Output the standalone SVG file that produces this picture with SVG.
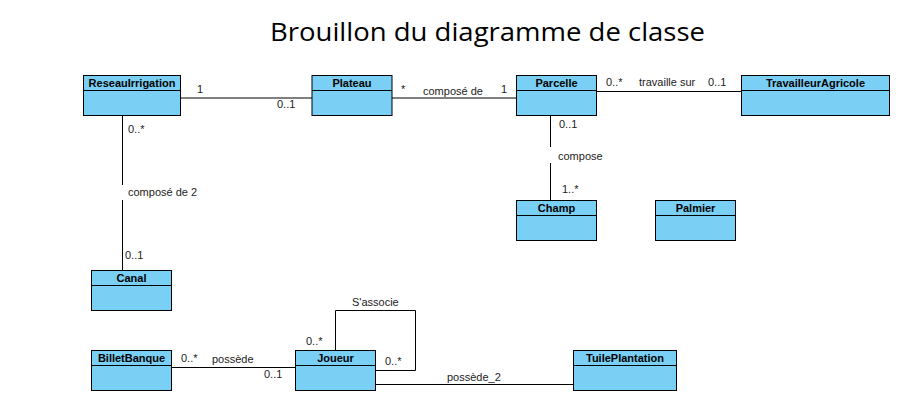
<svg xmlns="http://www.w3.org/2000/svg" width="903" height="418" viewBox="0 0 903 418">
<style>
.box{fill:#7acff5;stroke:#000;stroke-width:1}
.sep{stroke:#000;stroke-width:1}
.name{font-family:"Liberation Sans",Arial,sans-serif;font-size:11px;font-weight:bold;fill:#000;text-anchor:middle}
.lbl{font-family:"Liberation Sans",Arial,sans-serif;font-size:11px;fill:#222}
.con{fill:none;stroke:#000;stroke-width:1}
</style>
<rect width="903" height="418" fill="#fff"/>
<text x="270" y="41" font-family="'Open Sans','Noto Sans',sans-serif" font-size="26" fill="#000" textLength="435" lengthAdjust="spacingAndGlyphs">Brouillon du diagramme de classe</text>

<g id="connectors">
<path class="con" d="M180.5,98 H312"/>
<path class="con" d="M392,98 H516"/>
<path class="con" d="M596.5,91.5 H741"/>
<path class="con" d="M550.5,115 V147 M550.5,163 V200"/>
<path class="con" d="M122.5,115 V185 M122.5,200 V270"/>
<path class="con" d="M171.5,367.5 H295"/>
<path class="con" d="M335.5,350.5 V310.5 H415.5 V370.5 H375"/>
<path class="con" d="M375,384.5 H573"/>
<text class="lbl" x="197" y="93">1</text>
<text class="lbl" x="277" y="108">0..1</text>
<text class="lbl" x="401" y="93">*</text>
<text class="lbl" x="423" y="95">composé de</text>
<text class="lbl" x="501" y="93">1</text>
<text class="lbl" x="606" y="86">0..*</text>
<text class="lbl" x="639" y="86">travaille sur</text>
<text class="lbl" x="708" y="86">0..1</text>
<text class="lbl" x="559" y="128">0..1</text>
<text class="lbl" x="558" y="160">compose</text>
<text class="lbl" x="562" y="193">1..*</text>
<text class="lbl" x="128" y="133">0..*</text>
<text class="lbl" x="128" y="196">composé de 2</text>
<text class="lbl" x="125" y="259">0..1</text>
<text class="lbl" x="181" y="362">0..*</text>
<text class="lbl" x="212" y="363">possède</text>
<text class="lbl" x="264" y="378">0..1</text>
<text class="lbl" x="352" y="306">S'associe</text>
<text class="lbl" x="306" y="345">0..*</text>
<text class="lbl" x="385" y="365">0..*</text>
<text class="lbl" x="447" y="381">possède_2</text>
</g>

<g id="ReseauIrrigation">
<rect class="box" x="83.5" y="75.5" width="97" height="40"/>
<line class="sep" x1="83.5" y1="90.5" x2="180.5" y2="90.5"/>
<text class="name" x="132" y="87">ReseauIrrigation</text>
</g>
<g id="Plateau">
<rect class="box" x="312" y="75.5" width="80" height="40"/>
<line class="sep" x1="312" y1="90.5" x2="392" y2="90.5"/>
<text class="name" x="352" y="87">Plateau</text>
</g>
<g id="Parcelle">
<rect class="box" x="516.5" y="75.5" width="80" height="40"/>
<line class="sep" x1="516.5" y1="90.5" x2="596.5" y2="90.5"/>
<text class="name" x="556.5" y="87">Parcelle</text>
</g>
<g id="TravailleurAgricole">
<rect class="box" x="741.5" y="75.5" width="148" height="40"/>
<line class="sep" x1="741.5" y1="90.5" x2="889.5" y2="90.5"/>
<text class="name" x="815.5" y="87">TravailleurAgricole</text>
</g>
<g id="Champ">
<rect class="box" x="516.5" y="200.5" width="80" height="40"/>
<line class="sep" x1="516.5" y1="215.5" x2="596.5" y2="215.5"/>
<text class="name" x="556.5" y="212">Champ</text>
</g>
<g id="Palmier">
<rect class="box" x="655.5" y="200.5" width="80" height="40"/>
<line class="sep" x1="655.5" y1="215.5" x2="735.5" y2="215.5"/>
<text class="name" x="695.5" y="212">Palmier</text>
</g>
<g id="Canal">
<rect class="box" x="91.5" y="270.5" width="80" height="40"/>
<line class="sep" x1="91.5" y1="285.5" x2="171.5" y2="285.5"/>
<text class="name" x="131.5" y="282">Canal</text>
</g>
<g id="BilletBanque">
<rect class="box" x="91.5" y="350.5" width="80" height="40"/>
<line class="sep" x1="91.5" y1="365.5" x2="171.5" y2="365.5"/>
<text class="name" x="131.5" y="362">BilletBanque</text>
</g>
<g id="Joueur">
<rect class="box" x="295.5" y="350.5" width="80" height="40"/>
<line class="sep" x1="295.5" y1="365.5" x2="375.5" y2="365.5"/>
<text class="name" x="335.5" y="362">Joueur</text>
</g>
<g id="TuilePlantation">
<rect class="box" x="573.5" y="350.5" width="103" height="40"/>
<line class="sep" x1="573.5" y1="365.5" x2="676.5" y2="365.5"/>
<text class="name" x="625" y="362">TuilePlantation</text>
</g>
</svg>
